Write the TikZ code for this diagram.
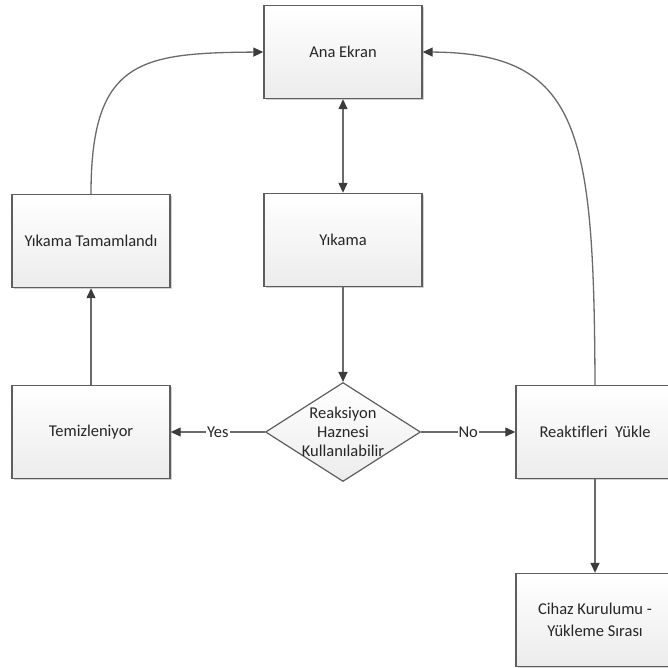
\documentclass[tikz,border=0pt]{standalone}
\usepackage{fontspec}
\setmainfont[Ligatures=NoCommon]{Carlito}
\usepackage{tikz}
\usetikzlibrary{shapes.geometric, arrows.meta, shadows}
\definecolor{boxLine}{HTML}{5E5E5E}
\definecolor{boxLow}{HTML}{ECECEC}
\definecolor{wireGray}{HTML}{6A6A6A}
\definecolor{tipGray}{HTML}{3C3C3C}
\definecolor{txtDark}{HTML}{262626}

\begin{document}
\begin{tikzpicture}[x=1pt, y=1pt,
    every node/.style={font=\fontsize{16.5}{19}\selectfont, text=txtDark},
    stepbox/.style={draw=boxLine, line width=1.4pt, top color=white, bottom color=boxLow,
        minimum width=158pt, minimum height=93pt, inner sep=0pt, align=center,
        drop shadow={shadow xshift=1.5pt, shadow yshift=-1.5pt, fill=black!30, opacity=0.6}},
    decision/.style={draw=boxLine, line width=1.2pt, diamond, top color=white, bottom color=boxLow,
        minimum width=155pt, minimum height=99pt, inner sep=0pt},
    wire/.style={draw=wireGray, line width=1.3pt, -{Triangle[length=10pt, width=9pt, color=tipGray]}},
    tag/.style={fill=white, inner sep=1pt}]
    \useasboundingbox (0,0) rectangle (668,-667);
    \node[stepbox](ana)at(343,-52){Ana Ekran};
    \node[stepbox](yik)at(343,-240){Yıkama};
    \node[stepbox](tam)at(91,-241){Yıkama Tamamlandı};
    \node[stepbox](tem)at(91,-432){Temizleniyor};
    \node[decision, label={[align=center, font=\fontsize{16.5}{19}\selectfont]center:Reaksiyon\\Haznesi\\Kullanılabilir}](hazne)at(343,-432){};
    \node[stepbox](rea)at(595,-432){Reaktifleri~ Yükle};
    \node[stepbox, font=\fontsize{16.5}{22}\selectfont](cih)at(595,-620){Cihaz Kurulumu -\\Yükleme Sırası};
    \draw[wire, {Triangle[length=10pt, width=9pt, color=tipGray]}-{Triangle[length=10pt, width=9pt, color=tipGray]}](ana)--(yik);
    \draw[wire](yik)--(hazne);
    \draw[wire](hazne.west)--node[tag]{Yes}(tem);
    \draw[wire](hazne.east)--node[tag]{No}(rea);
    \draw[wire](tem)--(tam);
    \draw[wire](rea)--(cih);
    \draw[wire](tam.north) .. controls (91,-60) and (140,-53) .. (ana.west);
    \draw[wire](rea.north) .. controls (594,-130) and (580,-53) .. (ana.east);
\end{tikzpicture}
\end{document}
